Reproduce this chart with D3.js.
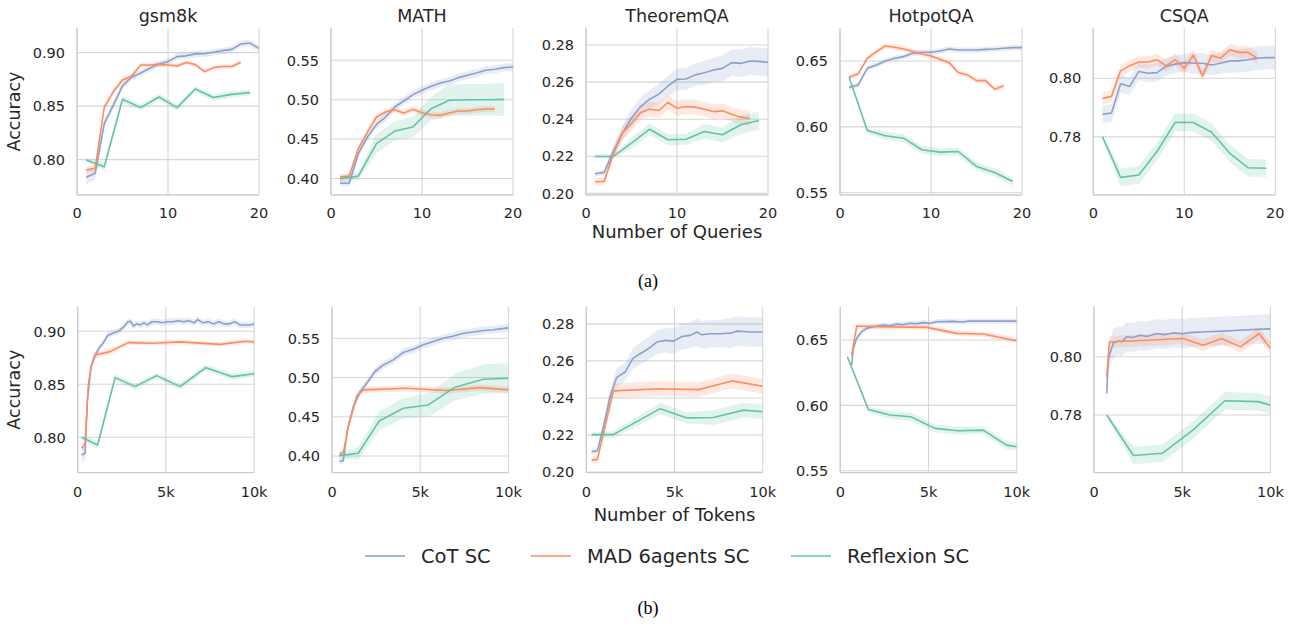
<!DOCTYPE html>
<html><head><meta charset="utf-8">
<script src="https://cdn.jsdelivr.net/npm/d3@7/dist/d3.min.js"></script>
<style>body{margin:0;background:#fff;}svg{display:block;}</style>
</head><body>
<script>
// ---------- DATA ----------
const datasets = ["gsm8k","MATH","TheoremQA","HotpotQA","CSQA"];
const seriesNames = ["CoT SC","MAD 6agents SC","Reflexion SC"];
const seriesColors = ["#8da0cb","#fc8d62","#66c2a5"];
const yTicks = [[0.80,0.85,0.90],[0.40,0.45,0.50,0.55],[0.20,0.22,0.24,0.26,0.28],[0.55,0.60,0.65],[0.78,0.80]];
const xTicksQ = [0,10,20];
const xTickLabelsQ = ["0","10","20"];
const xTicksT = [0,5,10];
const xTickLabelsT = ["0","5k","10k"];
const yDomainsQ = [[0.767,0.923],[0.379,0.591],[0.1991,0.2892],[0.5483,0.675],[0.7602,0.8171]];
const yDomainsT = [[0.7666,0.9232],[0.3787,0.5903],[0.1996,0.2893],[0.5485,0.6755],[0.7602,0.8172]];

// Row (a): [queries, accuracy, CI half-width]
const q_gsm8k_cot = [[1,0.7836,0.007],[2,0.7873,0.006],[3,0.834,0.004],[4,0.851,0.004],[5,0.869,0.003],[6,0.877,0.003],[7,0.881,0.003],[8,0.8854,0.003],[9,0.8894,0.003],[10,0.8916,0.003],[11,0.8963,0.003],[12,0.897,0.003],[13,0.8988,0.003],[14,0.899,0.003],[15,0.9003,0.003],[16,0.9019,0.003],[17,0.903,0.003],[18,0.908,0.003],[19,0.909,0.003],[20,0.904,0.003]];
const q_gsm8k_mad = [[1,0.7904,0.003],[2,0.792,0.003],[3,0.849,0.003],[4,0.8636,0.003],[5,0.8745,0.003],[6,0.878,0.003],[7,0.8885,0.002],[8,0.8885,0.002],[9,0.889,0.002],[10,0.8885,0.002],[11,0.8876,0.002],[12,0.8907,0.002],[13,0.8888,0.002],[14,0.8822,0.002],[15,0.886,0.002],[16,0.887,0.002],[17,0.887,0.002],[18,0.891,0.002]];
const q_gsm8k_ref = [[1,0.7997,0.002],[3,0.7935,0.004],[5,0.8565,0.003],[7,0.8486,0.003],[9,0.8586,0.003],[11,0.8486,0.003],[13,0.866,0.003],[15,0.858,0.003],[17,0.861,0.003],[19,0.8626,0.003]];

const q_math_cot = [[1,0.394,0.004],[2,0.394,0.004],[3,0.4314,0.005],[4,0.4525,0.005],[5,0.4686,0.005],[6,0.478,0.005],[7,0.4907,0.005],[8,0.4983,0.005],[9,0.5064,0.005],[10,0.5119,0.005],[11,0.517,0.005],[12,0.5212,0.005],[13,0.5237,0.005],[14,0.528,0.005],[15,0.531,0.005],[16,0.5339,0.005],[17,0.5373,0.005],[18,0.5386,0.005],[19,0.5407,0.005],[20,0.5415,0.005]];
const q_math_mad = [[1,0.4017,0.004],[2,0.403,0.004],[3,0.4377,0.004],[4,0.4589,0.004],[5,0.478,0.004],[6,0.4843,0.004],[7,0.4873,0.004],[8,0.483,0.004],[9,0.4877,0.004],[10,0.4835,0.004],[11,0.4809,0.004],[12,0.4801,0.004],[13,0.483,0.004],[14,0.4856,0.004],[15,0.4856,0.004],[16,0.4873,0.004],[17,0.4881,0.004],[18,0.4881,0.004]];
const q_math_ref = [[1,0.3996,0.004],[3,0.403,0.005],[5,0.4441,0.012],[7,0.4602,0.012],[9,0.4653,0.013],[11,0.4886,0.015],[13,0.4992,0.02],[15,0.50,0.02],[17,0.50,0.02],[19,0.5004,0.021]];

const q_thm_cot = [[1,0.2106,0.0015],[2,0.2113,0.0015],[3,0.2226,0.003],[4,0.2325,0.004],[5,0.2405,0.005],[6,0.2468,0.005],[7,0.2508,0.005],[8,0.2535,0.0055],[9,0.2579,0.0055],[10,0.2615,0.006],[11,0.2617,0.006],[12,0.2639,0.006],[13,0.2651,0.0065],[14,0.2665,0.0065],[15,0.2674,0.007],[16,0.2705,0.007],[17,0.2701,0.0075],[18,0.2714,0.0075],[19,0.2712,0.0075],[20,0.2707,0.0075]];
const q_thm_mad = [[1,0.2061,0.002],[2,0.2065,0.002],[3,0.2212,0.003],[4,0.2325,0.004],[5,0.2378,0.004],[6,0.2436,0.004],[7,0.2454,0.004],[8,0.2447,0.004],[9,0.249,0.004],[10,0.2459,0.004],[11,0.2468,0.004],[12,0.2465,0.004],[13,0.2454,0.004],[14,0.2441,0.004],[15,0.2445,0.004],[16,0.2427,0.004],[17,0.2411,0.004],[18,0.2404,0.004]];
const q_thm_ref = [[1,0.2199,0.001],[3,0.2199,0.001],[5,0.2271,0.003],[7,0.2346,0.003],[9,0.2289,0.003],[11,0.2292,0.003],[13,0.2334,0.004],[15,0.2316,0.004],[17,0.237,0.005],[19,0.2393,0.005]];

const q_hot_cot = [[1,0.6298,0.002],[2,0.6318,0.002],[3,0.6444,0.002],[4,0.647,0.002],[5,0.65,0.002],[6,0.652,0.002],[7,0.6533,0.002],[8,0.6558,0.002],[9,0.6566,0.002],[10,0.6566,0.002],[11,0.6576,0.002],[12,0.6591,0.002],[13,0.6583,0.002],[14,0.6583,0.002],[15,0.6583,0.002],[16,0.6588,0.002],[17,0.6591,0.002],[18,0.6596,0.002],[19,0.6601,0.002],[20,0.6601,0.002]];
const q_hot_mad = [[1,0.6376,0.002],[2,0.6402,0.002],[3,0.652,0.002],[4,0.6571,0.002],[5,0.6614,0.002],[6,0.6604,0.002],[7,0.6591,0.002],[8,0.6571,0.002],[9,0.6553,0.002],[10,0.6538,0.002],[11,0.6513,0.002],[12,0.6487,0.002],[13,0.6412,0.002],[14,0.6394,0.002],[15,0.6351,0.002],[16,0.6351,0.002],[17,0.6285,0.002],[18,0.6311,0.002]];
const q_hot_ref = [[1,0.6376,0.001],[3,0.5972,0.002],[5,0.5932,0.003],[7,0.5914,0.003],[9,0.5826,0.003],[11,0.5808,0.003],[13,0.5813,0.003],[15,0.57,0.003],[17,0.5654,0.003],[19,0.5586,0.003]];

const q_csqa_cot = [[1,0.7877,0.003],[2,0.7881,0.003],[3,0.7981,0.003],[4,0.7972,0.003],[5,0.8023,0.003],[6,0.8017,0.003],[7,0.8019,0.003],[8,0.804,0.003],[9,0.8048,0.003],[10,0.8053,0.003],[11,0.8051,0.0035],[12,0.8051,0.0035],[13,0.8045,0.0035],[14,0.8051,0.0035],[15,0.8059,0.004],[16,0.8059,0.004],[17,0.8063,0.004],[18,0.8068,0.004],[19,0.807,0.004],[20,0.807,0.004]];
const q_csqa_mad = [[1,0.7931,0.002],[2,0.7938,0.002],[3,0.8025,0.002],[4,0.8042,0.002],[5,0.8055,0.002],[6,0.8055,0.002],[7,0.8063,0.002],[8,0.8042,0.002],[9,0.8063,0.002],[10,0.8034,0.002],[11,0.8078,0.002],[12,0.8008,0.002],[13,0.8077,0.002],[14,0.8068,0.002],[15,0.8097,0.002],[16,0.8088,0.002],[17,0.8088,0.002],[18,0.8068,0.002]];
const q_csqa_ref = [[1,0.7801,0.0005],[3,0.7662,0.003],[5,0.767,0.003],[7,0.775,0.003],[9,0.785,0.003],[11,0.7849,0.003],[13,0.7816,0.003],[15,0.7744,0.003],[17,0.7695,0.003],[19,0.7693,0.003]];

// Row (b): [tokens in thousands, accuracy, CI half-width]
const t_gsm8k_cot = [[0.23,0.7833,0.007],[0.42,0.785,0.006],[0.55,0.835,0.005],[0.75,0.866,0.004],[0.98,0.877,0.004],[1.2,0.884,0.003],[1.45,0.889,0.003],[1.7,0.896,0.003],[1.95,0.898,0.003],[2.3,0.9,0.003],[2.6,0.904,0.003],[2.85,0.909,0.003],[3.0,0.9095,0.003],[3.15,0.905,0.003],[3.35,0.907,0.003],[3.55,0.906,0.003],[3.75,0.908,0.003],[3.95,0.906,0.003],[4.2,0.909,0.003],[4.5,0.909,0.003],[4.8,0.908,0.003],[5.1,0.909,0.003],[5.4,0.909,0.003],[5.7,0.91,0.003],[6.0,0.909,0.003],[6.3,0.91,0.003],[6.6,0.908,0.003],[6.8,0.911,0.003],[7.1,0.908,0.003],[7.4,0.909,0.003],[7.7,0.907,0.003],[8.0,0.909,0.003],[8.3,0.907,0.003],[8.6,0.907,0.003],[8.9,0.909,0.003],[9.2,0.906,0.003],[9.5,0.906,0.003],[9.8,0.906,0.003],[10,0.907,0.003]];
const t_gsm8k_mad = [[0.23,0.7896,0.003],[0.42,0.7943,0.003],[0.6,0.849,0.003],[0.75,0.866,0.003],[0.98,0.8777,0.003],[1.83,0.8808,0.003],[2.87,0.8893,0.002],[4.29,0.8887,0.002],[5.8,0.890,0.002],[8.07,0.8877,0.002],[9.49,0.8906,0.002],[10,0.890,0.002]];
const t_gsm8k_ref = [[0.23,0.80,0.002],[1.13,0.7928,0.004],[2.12,0.8563,0.003],[3.25,0.8478,0.003],[4.48,0.8582,0.003],[5.8,0.8478,0.003],[7.26,0.8657,0.003],[8.77,0.8572,0.003],[10,0.860,0.003]];

const t_math_cot = [[0.42,0.3937,0.004],[0.64,0.3937,0.004],[0.87,0.4332,0.005],[1.21,0.463,0.005],[1.59,0.482,0.005],[1.97,0.4928,0.005],[2.44,0.5077,0.005],[2.91,0.516,0.005],[3.48,0.5225,0.005],[4.04,0.532,0.005],[4.61,0.536,0.005],[5.18,0.5417,0.005],[5.75,0.546,0.005],[6.31,0.550,0.005],[6.88,0.553,0.005],[7.45,0.5565,0.005],[8.0,0.558,0.005],[8.58,0.560,0.005],[9.15,0.561,0.005],[9.53,0.562,0.005],[10,0.5633,0.005]];
const t_math_mad = [[0.42,0.4026,0.004],[0.64,0.4043,0.004],[0.93,0.4375,0.004],[1.4,0.4766,0.004],[1.78,0.4843,0.004],[4.23,0.4864,0.004],[6.5,0.4834,0.004],[8.4,0.4872,0.004],[10,0.4843,0.004]];
const t_math_ref = [[0.42,0.4005,0.004],[1.49,0.4035,0.008],[2.68,0.4447,0.012],[4.04,0.4609,0.013],[5.46,0.4651,0.015],[6.97,0.4877,0.017],[8.58,0.4979,0.019],[10,0.4991,0.019]];

const t_thm_cot = [[0.3,0.2109,0.0015],[0.63,0.2114,0.0015],[0.97,0.2244,0.003],[1.34,0.2405,0.004],[1.72,0.251,0.005],[2.2,0.254,0.005],[2.63,0.2612,0.0055],[3.05,0.2639,0.006],[3.52,0.2666,0.006],[4.0,0.2702,0.0065],[4.47,0.2711,0.0065],[4.94,0.2707,0.007],[5.42,0.2732,0.007],[5.89,0.2738,0.007],[6.27,0.2756,0.0075],[6.55,0.2741,0.0075],[7.03,0.2747,0.0075],[7.6,0.2747,0.0075],[8.17,0.275,0.008],[8.55,0.2761,0.008],[8.92,0.2759,0.008],[9.3,0.2756,0.008],[10,0.2756,0.008]];
const t_thm_mad = [[0.3,0.2064,0.002],[0.63,0.2068,0.002],[1.06,0.2244,0.003],[1.53,0.2438,0.004],[4.19,0.245,0.004],[6.36,0.2445,0.004],[8.26,0.2492,0.004],[10,0.2463,0.004]];
const t_thm_ref = [[0.3,0.2202,0.001],[1.53,0.2202,0.002],[4.19,0.2342,0.003],[5.7,0.2292,0.003],[7.2,0.2294,0.004],[8.92,0.2334,0.004],[10,0.2325,0.004]];

const t_hot_cot = [[0.64,0.6309,0.002],[0.74,0.6436,0.002],[0.93,0.6513,0.002],[1.21,0.6564,0.002],[1.49,0.6589,0.002],[1.87,0.6602,0.002],[2.44,0.6615,0.002],[2.8,0.6608,0.002],[3.19,0.6622,0.002],[3.5,0.6617,0.002],[3.95,0.6628,0.002],[4.3,0.6624,0.002],[4.7,0.6633,0.002],[5.1,0.6628,0.002],[5.46,0.664,0.002],[6.4,0.6643,0.002],[6.9,0.6638,0.002],[7.35,0.6645,0.002],[8.3,0.6645,0.002],[9.24,0.6645,0.002],[10,0.6645,0.002]];
const t_hot_mad = [[0.64,0.6385,0.002],[0.93,0.6607,0.002],[2.25,0.6602,0.002],[4.9,0.6597,0.002],[6.6,0.6551,0.002],[8.1,0.6546,0.002],[10,0.6495,0.002]];
const t_hot_ref = [[0.4,0.6372,0.001],[1.59,0.5969,0.002],[2.82,0.5926,0.003],[4.0,0.5913,0.003],[5.37,0.5824,0.003],[6.69,0.5806,0.003],[8.1,0.5811,0.003],[9.43,0.5696,0.003],[10,0.5684,0.003]];

const t_csqa_cot = [[0.72,0.7874,0.003],[0.81,0.7989,0.004],[0.9,0.8011,0.004],[1.09,0.8046,0.005],[1.38,0.8055,0.005],[1.6,0.8052,0.005],[1.85,0.8069,0.005],[2.2,0.8066,0.005],[2.6,0.8074,0.005],[3.0,0.807,0.005],[3.55,0.808,0.005],[4.0,0.8076,0.005],[4.49,0.8082,0.005],[5.0,0.8079,0.005],[5.43,0.8083,0.005],[6.38,0.8086,0.005],[7.32,0.8088,0.005],[8.26,0.8091,0.005],[9.2,0.8094,0.005],[10,0.8096,0.005]];
const t_csqa_mad = [[0.72,0.7931,0.002],[0.87,0.8051,0.002],[5.06,0.8063,0.002],[6.19,0.804,0.002],[7.23,0.8063,0.002],[8.3,0.8034,0.002],[9.36,0.808,0.002],[10,0.8029,0.002]];
const t_csqa_ref = [[0.72,0.78,0.0005],[2.23,0.7661,0.003],[3.89,0.7669,0.003],[5.62,0.7749,0.003],[7.42,0.7849,0.003],[9.3,0.7846,0.003],[10,0.7834,0.003]];

const rowQ = [[q_gsm8k_cot,q_gsm8k_mad,q_gsm8k_ref],[q_math_cot,q_math_mad,q_math_ref],[q_thm_cot,q_thm_mad,q_thm_ref],[q_hot_cot,q_hot_mad,q_hot_ref],[q_csqa_cot,q_csqa_mad,q_csqa_ref]];
const rowT = [[t_gsm8k_cot,t_gsm8k_mad,t_gsm8k_ref],[t_math_cot,t_math_mad,t_math_ref],[t_thm_cot,t_thm_mad,t_thm_ref],[t_hot_cot,t_hot_mad,t_hot_ref],[t_csqa_cot,t_csqa_mad,t_csqa_ref]];

// ---------- LAYOUT ----------
const W = 1297, H = 626;
const FONT = "'DejaVu Sans', sans-serif";
const TXT = "#262626", GRID = "#d6d6d6", SPINE = "#cccccc";
const rows = [
  {lefts:[77,331,586,840,1093.3], w:182, y0:28, y1:195, xmax:20, ticks:xTicksQ, labels:xTickLabelsQ, doms:yDomainsQ, data:rowQ, title:true, xlabel:"Number of Queries", xlabelY:238, tickDy:22.5},
  {lefts:[77.7,332,586.3,840.3,1094], w:176.4, y0:306.7, y1:472.7, xmax:10, ticks:xTicksT, labels:xTickLabelsT, doms:yDomainsT, data:rowT, title:false, xlabel:"Number of Tokens", xlabelY:521, tickDy:24.5}
];

const svg = d3.select("body").append("svg").attr("width",W).attr("height",H)
  .style("font-family",FONT);

rows.forEach((row, ri) => {
  datasets.forEach((ds, ci) => {
    const L = row.lefts[ci];
    const x = d3.scaleLinear().domain([0,row.xmax]).range([L, L+row.w]);
    const y = d3.scaleLinear().domain(row.doms[ci]).range([row.y1, row.y0]);
    const g = svg.append("g");
    const clipId = `clip${ri}_${ci}`;
    g.append("clipPath").attr("id",clipId).append("rect")
      .attr("x",L).attr("y",row.y0).attr("width",row.w).attr("height",row.y1-row.y0);
    // grid
    row.ticks.forEach(t => g.append("line").attr("x1",x(t)).attr("x2",x(t)).attr("y1",row.y0).attr("y2",row.y1)
      .attr("stroke",GRID).attr("stroke-width",1.1));
    yTicks[ci].forEach(t => g.append("line").attr("x1",L).attr("x2",L+row.w).attr("y1",y(t)).attr("y2",y(t))
      .attr("stroke",GRID).attr("stroke-width",1.1));
    // spines
    g.append("line").attr("x1",L).attr("x2",L).attr("y1",row.y0).attr("y2",row.y1).attr("stroke",SPINE).attr("stroke-width",1.3);
    g.append("line").attr("x1",L).attr("x2",L+row.w).attr("y1",row.y1).attr("y2",row.y1).attr("stroke",SPINE).attr("stroke-width",1.3);
    // tick labels
    row.ticks.forEach((t,i) => g.append("text").attr("x",x(t)).attr("y",row.y1+row.tickDy).attr("text-anchor","middle")
      .attr("font-size",14.5).attr("fill",TXT).text(row.labels[i]));
    yTicks[ci].forEach(t => g.append("text").attr("x",L-12).attr("y",y(t)).attr("dy","0.36em").attr("text-anchor","end")
      .attr("font-size",14.5).attr("fill",TXT).text(t.toFixed(2)));
    // series
    const plot = g.append("g").attr("clip-path",`url(#${clipId})`);
    row.data[ci].forEach((ser, si) => {
      const area = d3.area().x(d=>x(d[0])).y0(d=>y(d[1]-d[2])).y1(d=>y(d[1]+d[2]));
      plot.append("path").attr("d",area(ser)).attr("fill",seriesColors[si]).attr("fill-opacity",0.2).attr("stroke","none");
    });
    row.data[ci].forEach((ser, si) => {
      const line = d3.line().x(d=>x(d[0])).y(d=>y(d[1]));
      plot.append("path").attr("d",line(ser)).attr("fill","none").attr("stroke",seriesColors[si]).attr("stroke-width",1.6)
        .attr("stroke-linejoin","round");
    });
    if (row.title) g.append("text").attr("x",L+row.w/2).attr("y",21.5).attr("text-anchor","middle")
      .attr("font-size",17.5).attr("fill",TXT).text(ds);
    if (ci === 0) g.append("text").attr("transform",`translate(20,${(row.y0+row.y1)/2}) rotate(-90)`)
      .attr("text-anchor","middle").attr("font-size",17.5).attr("fill",TXT).text("Accuracy");
    if (ci === 2) g.append("text").attr("x",L+row.w/2).attr("y",row.xlabelY).attr("text-anchor","middle")
      .attr("font-size",18).attr("fill",TXT).text(row.xlabel);
  });
});

// sub-captions
svg.append("text").attr("x",648).attr("y",287).attr("text-anchor","middle").attr("font-family","'Liberation Serif', serif")
  .attr("font-size",18).attr("fill","#000").text("(a)");
svg.append("text").attr("x",648).attr("y",614).attr("text-anchor","middle").attr("font-family","'Liberation Serif', serif")
  .attr("font-size",18).attr("fill","#000").text("(b)");

// legend
const legX = [365, 531, 791];
seriesNames.forEach((n,i) => {
  svg.append("line").attr("x1",legX[i]).attr("x2",legX[i]+40).attr("y1",556).attr("y2",556)
    .attr("stroke",seriesColors[i]).attr("stroke-width",1.6);
  svg.append("text").attr("x",legX[i]+56).attr("y",556).attr("dy","0.36em").attr("font-size",19.5)
    .attr("fill",TXT).text(n);
});
</script>
</body></html>
